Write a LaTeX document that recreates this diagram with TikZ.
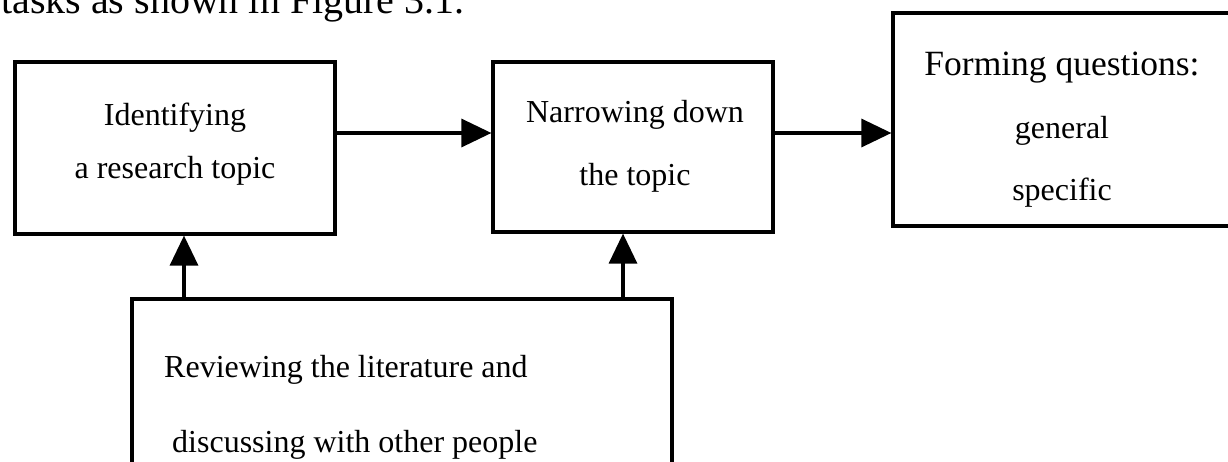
\documentclass[tikz,border=0pt]{standalone}
\usepackage{fontspec}
\setmainfont{Liberation Serif}
\usetikzlibrary{arrows.meta}
\tikzset{
  box/.style={draw, line width=3.2pt, inner sep=0pt},
  label/.style={inner sep=0pt, font=\fontsize{32}{53}\selectfont, align=center},
  arr/.style={line width=3.2pt, -{Triangle[length=30pt,width=28pt]}},
}
\begin{document}
\begin{tikzpicture}[x=1pt,y=-1pt]
  \useasboundingbox (0,0) rectangle (1228,461);
  \clip (0,0) rectangle (1228,461);
  \fill[white] (0,0) rectangle (1228,461);

  % running text line above the figure
  \node[inner sep=0pt, anchor=base west, font=\fontsize{40}{48}\selectfont] (caption) at (1,13)
    {tasks as shown in Figure 3.1.};

  % boxes
  \node[box, minimum width=320pt, minimum height=172pt] (A) at (175,148) {};
  \node[box, minimum width=280pt, minimum height=170pt] (B) at (633,147) {};
  \node[box, minimum width=347pt, minimum height=213pt] (C) at (1066.5,119.5) {};
  \node[box, minimum width=540pt, minimum height=191pt] (D) at (402,394.5) {};

  % box texts
  \node[label] (Atext) at (175,144.5) {Identifying\\a research topic};
  \node[label, font=\fontsize{32}{63}\selectfont] (Btext) at (635,146.5) {Narrowing down\\the topic};
  \node[label, font=\fontsize{35.5}{40}\selectfont] (Ctitle) at (1062,68) {Forming questions:};
  \node[label, font=\fontsize{32}{62}\selectfont] (Citems) at (1062,162) {general\\specific};
  \node[label, anchor=west, align=left, font=\fontsize{32}{75}\selectfont] (Dtext) at (164,407)
    {Reviewing the literature and\\\hspace*{8pt}discussing with other people};

  % connectors
  \coordinate (row) at (0,133);
  \coordinate (upA) at (184,0);
  \coordinate (upB) at (623,0);
  \draw[arr] (A.east |- row) -- (B.west |- row);
  \draw[arr] (B.east |- row) -- (C.west |- row);
  \draw[arr] (D.north -| upA) -- (A.south -| upA);
  \draw[arr] (D.north -| upB) -- (B.south -| upB);
\end{tikzpicture}
\end{document}
